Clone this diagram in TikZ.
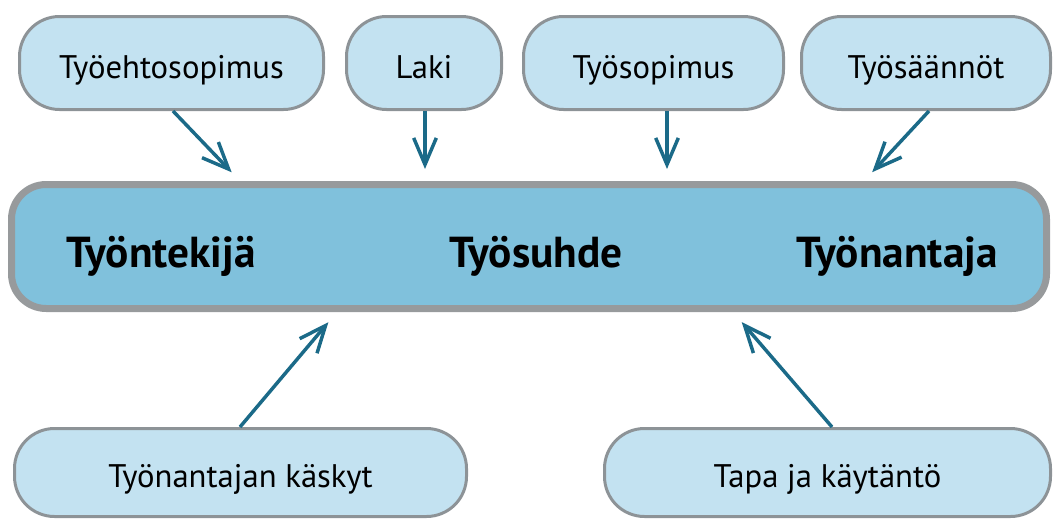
\documentclass[tikz,border=0pt]{standalone}
\usepackage{fontspec}
\setmainfont{PT Sans}
\usetikzlibrary{arrows.meta}

\definecolor{laatikko}{HTML}{C3E2F1}
\definecolor{palkki}{HTML}{80C1DC}
\definecolor{reuna}{HTML}{8D9397}
\definecolor{palkkireuna}{HTML}{979A9C}
\definecolor{nuoli}{HTML}{1B6A88}

\tikzset{
  lahde/.style={draw=reuna, line width=2.25pt, fill=laatikko,
    rounded corners=30pt, inner sep=0pt, minimum height=69.75pt,
    font=\fontsize{24.5}{28}\selectfont, text height=23pt, text depth=0pt},
  alalahde/.style={lahde, minimum height=66pt},
  suhdepalkki/.style={draw=palkkireuna, line width=5.25pt, fill=palkki,
    rounded corners=26pt, inner sep=0pt, minimum width=776.25pt,
    minimum height=93pt},
  osapuoli/.style={font=\bfseries\fontsize{32.5}{38}\selectfont, anchor=base,
    inner sep=0pt},
  vaikutus/.style={draw=nuoli, line width=2.6pt,
    -{Straight Barb[length=20pt, width=17pt]}}
}

\begin{document}
\begin{tikzpicture}[x=0.75pt, y=-0.75pt]

    % Kuvan rajat
    \useasboundingbox (0,0) rectangle (1054,521);

    % Ylärivin laatikot
    \node[lahde, minimum width=228pt] (tes) at (171.5,63) {Työehtosopimus};
    \node[lahde, minimum width=116.25pt] (laki) at (424,63) {Laki};
    \node[lahde, minimum width=195pt] (tsop) at (653.5,63) {Työsopimus};
    \node[lahde, minimum width=186.75pt] (tsaan) at (926,63) {Työsäännöt};

    % Keskimmäinen palkki
    \node[suhdepalkki] (suhde) at (529,246.5) {};
    \node[osapuoli] (tekija) at (161,267) {Työntekijä};
    \node[osapuoli] (tsuhde) at (536,267) {Työsuhde};
    \node[osapuoli] (antaja) at (897,267) {Työnantaja};

    % Alarivin laatikot
    \node[alalahde, minimum width=339pt] (kasky) at (240.5,472.5) {Työnantajan käskyt};
    \node[alalahde, minimum width=334.5pt] (tapa) at (827.5,472.5) {Tapa ja käytäntö};

    % Nuolet
    \draw[vaikutus, shorten >=9pt] (tes.south -| 173,0) -- (suhde.north -| 240,0);
    \draw[vaikutus, shorten >=9pt] (laki.south -| 425,0) -- (suhde.north -| 425,0);
    \draw[vaikutus, shorten >=9pt] (tsop.south -| 667,0) -- (suhde.north -| 667,0);
    \draw[vaikutus, shorten >=9pt] (tsaan.south -| 929,0) -- (suhde.north -| 864,0);
    \draw[vaikutus, shorten >=10pt] (kasky.north -| 240,0) -- (suhde.south -| 337,0);
    \draw[vaikutus, shorten >=10pt] (tapa.north -| 832,0) -- (suhde.south -| 733,0);

\end{tikzpicture}
\end{document}
